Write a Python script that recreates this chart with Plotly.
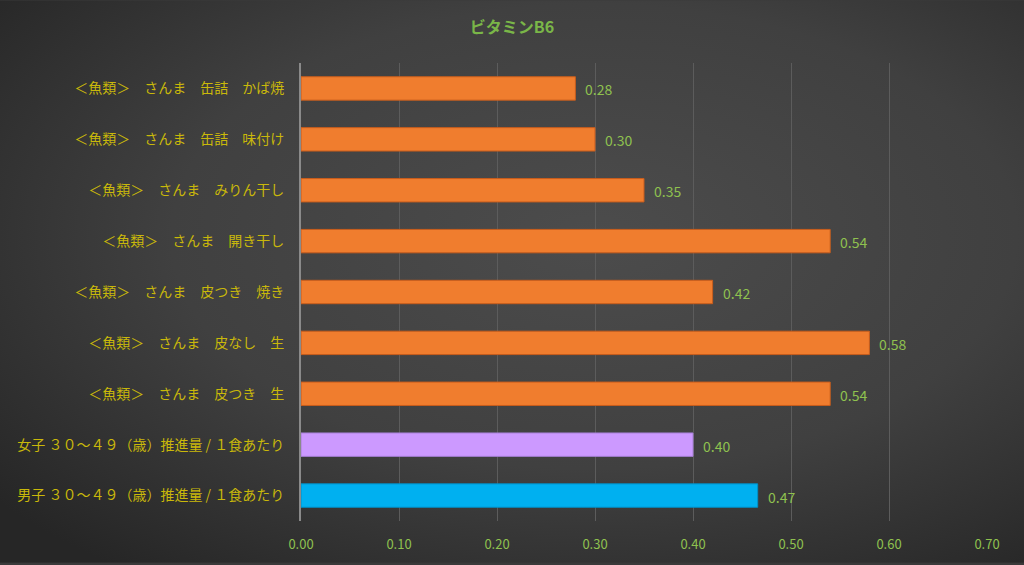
import base64
import plotly.graph_objects as go

categories = [
    "男子 ３０～４９（歳）推進量 / １食あたり",
    "女子 ３０～４９（歳）推進量 / １食あたり",
    "＜魚類＞　さんま　皮つき　生",
    "＜魚類＞　さんま　皮なし　生",
    "＜魚類＞　さんま　皮つき　焼き",
    "＜魚類＞　さんま　開き干し",
    "＜魚類＞　さんま　みりん干し",
    "＜魚類＞　さんま　缶詰　味付け",
    "＜魚類＞　さんま　缶詰　かば焼",
]
values = [0.466, 0.40, 0.54, 0.58, 0.42, 0.54, 0.35, 0.30, 0.28]
bar_colors = ["#00b0f0", "#cc99ff"] + ["#f07d2e"] * 7
line_colors = ["#0090c8", "#a67fd6"] + ["#c85d1c"] * 7
x_ticks = [0.0, 0.1, 0.2, 0.3, 0.4, 0.5, 0.6, 0.7]

W, H = 1024, 565
L, R, T, B = 301, 37, 63, 42
pw, ph = W - L - R, H - T - B

svg = f"""<svg xmlns='http://www.w3.org/2000/svg' width='{W}' height='{H}'>
<defs><radialGradient id='g' cx='58%' cy='42%' r='75%'>
<stop offset='0' stop-color='#4c4c4c'/><stop offset='0.55' stop-color='#404040'/>
<stop offset='1' stop-color='#262626'/></radialGradient></defs>
<rect width='{W}' height='{H}' fill='url(#g)'/></svg>"""
src = "data:image/svg+xml;base64," + base64.b64encode(svg.encode()).decode()

fig = go.Figure()
fig.add_trace(go.Bar(
    x=values, y=categories, orientation="h",
    marker=dict(color=bar_colors, line=dict(color=line_colors, width=1)),
    width=0.46, hoverinfo="skip",
))
for v, c in zip(values, categories):
    fig.add_annotation(x=v, y=c, text=f"{v:.2f}", showarrow=False,
                       xanchor="left", xshift=8, yshift=-1,
                       font=dict(color="#8fc14f", size=14, family="Noto Sans CJK JP"))

fig.update_layout(
    width=W, height=H,
    margin=dict(l=L, r=R, t=T, b=B),
    paper_bgcolor="#3a3a3a", plot_bgcolor="rgba(0,0,0,0)",
    showlegend=False,
    title=dict(text="<b>ビタミンB6</b>", x=0.5, xanchor="center", y=0.952, yanchor="middle",
               font=dict(color="#7ab648", size=16, family="Noto Sans CJK JP")),
    images=[dict(source=src, xref="paper", yref="paper", x=-L / pw, y=1 + T / ph,
                 sizex=W / pw, sizey=H / ph, sizing="stretch", layer="below",
                 xanchor="left", yanchor="top")],
    xaxis=dict(range=[0, 0.7], tickvals=x_ticks, ticktext=[f"{t:.2f}" for t in x_ticks],
               showgrid=True, gridcolor="#5c5c5c", gridwidth=1, zeroline=False,
               showline=False, ticks="", ticklabelstandoff=14,
               tickfont=dict(color="#8fc14f", size=13, family="Noto Sans CJK JP")),
    yaxis=dict(categoryorder="array", categoryarray=categories,
               range=[-0.5, 8.5],
               showgrid=False, zeroline=False, showline=True, linecolor="#8a8a8a", linewidth=2,
               ticks="", ticklabelstandoff=12,
               tickfont=dict(color="#c9b80a", size=14, family="Noto Sans CJK JP")),
)
fig.write_html("out.html")
